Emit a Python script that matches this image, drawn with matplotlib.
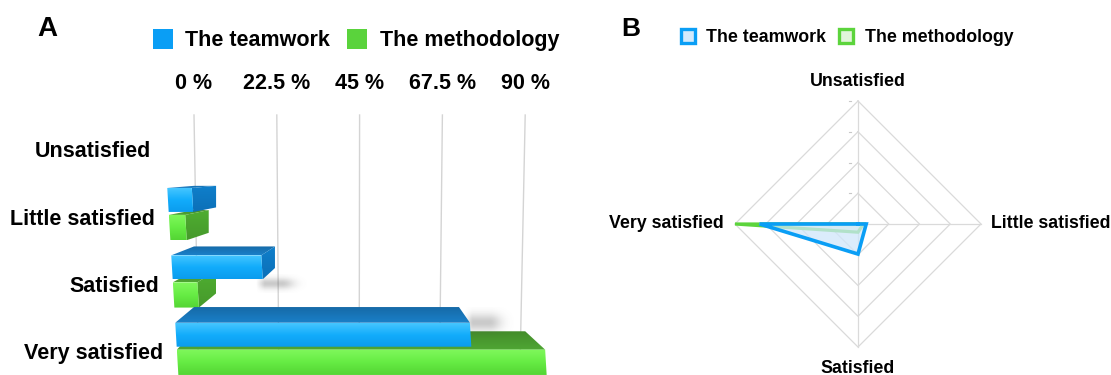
import numpy as np
import matplotlib.pyplot as plt
from matplotlib.patches import Polygon, Rectangle
from matplotlib.colors import LinearSegmentedColormap

plt.rcParams['font.family'] = ['Liberation Sans', 'DejaVu Sans']
plt.rcParams['font.weight'] = 'bold'

# --- Data ---
categories = ['Unsatisfied', 'Little satisfied', 'Satisfied', 'Very satisfied']
series_names = ['The teamwork', 'The methodology']
teamwork = [0, 6, 22, 72]
methodology = [0, 4, 6, 90]
pct_ticks = [0, 22.5, 45, 67.5, 90]
pct_labels = ['0 %', '22.5 %', '45 %', '67.5 %', '90 %']

W, H = 1111, 375
fig = plt.figure(figsize=(W / 100, H / 100), dpi=100)


def fx(px):
    return px / W


def fy(py):
    return 1 - py / H


# --- Panel A: pseudo-3D horizontal bars ---
ax = fig.add_axes([0, 0, 590 / W, 1])
PX_PER_PCT = 3.68      # back wall scale
X0 = 194               # pixel of 0 % on back wall
PX_PER_ROW = 60.6
Y0 = 151.3
VPX, VPY = 41.3, 0.259  # vanishing point (data units)
K = 1.112               # front face magnification
SHEAR = 4 / PX_PER_PCT


def to_front(x, y):
    xf = VPX + K * (x - VPX) + SHEAR * (y - 3)
    yf = VPY + K * (y - VPY)
    return xf, yf


def shade_poly(axis, pts, colors, z):
    poly = Polygon(pts, closed=True, facecolor='none', edgecolor='none', zorder=z)
    axis.add_patch(poly)
    xs = [p[0] for p in pts]
    ys = [p[1] for p in pts]
    cmap = LinearSegmentedColormap.from_list('face', colors)
    grad = np.linspace(0, 1, 64).reshape(-1, 1)
    im = axis.imshow(grad, cmap=cmap, extent=(min(xs), max(xs), max(ys), min(ys)),
                     aspect='auto', zorder=z, interpolation='bilinear')
    im.set_clip_path(poly)


def soft_shadow(axis, xc, yc, w, h, z, strength=0.32):
    # blurred grey smear, sizes in data units
    gx = np.linspace(-1, 1, 80)
    gy = np.linspace(-1, 1, 40)
    X, Y = np.meshgrid(gx, gy)
    a = np.exp(-(np.clip(X, 0, None) ** 2) * 4.0 - (Y ** 2) * 3.0) * strength
    a *= np.clip((X + 1) * 3, 0, 1)
    rgba = np.zeros(a.shape + (4,))
    rgba[..., :3] = 0.35
    rgba[..., 3] = a
    axis.imshow(rgba, extent=(xc - w / 2, xc + w / 2, yc + h / 2, yc - h / 2),
                aspect='auto', zorder=z, interpolation='bilinear')


styles = {
    'The teamwork': dict(front=['#45c6ff', '#12acfb', '#0b9cee'],
                         top=['#166aa8', '#1a80c8'],
                         side=['#0f7fcb', '#0c70b8'],
                         span=(-0.43, -0.074)),
    'The methodology': dict(front=['#80f85c', '#66ec44', '#54d534'],
                            top=['#438c2a', '#4fa634'],
                            side=['#4fae31', '#46992b'],
                            span=(-0.03, 0.345)),
}

# gridlines on the back wall, slightly converging downwards
y_grid_top = (115 - Y0) / PX_PER_ROW
y_bottom = (H - Y0) / PX_PER_ROW
for v in pct_ticks:
    ax.plot([v, VPX + 0.97 * (v - VPX)], [y_grid_top, y_bottom],
            color='#d4d4d4', lw=1.0, zorder=0)

z = 2
for i, cat in enumerate(categories):
    for name, vals in [('The methodology', methodology), ('The teamwork', teamwork)]:
        v = vals[i]
        if v <= 0:
            continue
        st = styles[name]
        y0, y1 = i + st['span'][0], i + st['span'][1]
        b_tl, b_tr, b_br = (0, y0), (v, y0), (v, y1)
        f_tl, f_tr, f_br, f_bl = (to_front(0, y0), to_front(v, y0),
                                  to_front(v, y1), to_front(0, y1))
        if name == 'The teamwork' and v >= 10:
            # shadow lands on the floor, or on the longer green bar underneath
            if methodology[i] > v:
                sy, sh = y0 + 16 / PX_PER_ROW, 30
            else:
                sy, sh = f_br[1] + 5 / PX_PER_ROW, 18
            soft_shadow(ax, f_br[0] + 18 / PX_PER_PCT, sy,
                        50 / PX_PER_PCT, sh / PX_PER_ROW, z - 0.05)
        shade_poly(ax, [b_tl, b_tr, f_tr, f_tl], st['top'], z)
        if v < VPX:
            shade_poly(ax, [b_tr, b_br, f_br, f_tr], st['side'], z + 0.1)
        shade_poly(ax, [f_tl, f_tr, f_br, f_bl], st['front'], z + 0.2)
        z += 1

# axis labels
y_tick_base = (88.5 - Y0) / PX_PER_ROW
for v, lab in zip(pct_ticks, pct_labels):
    ax.text(v, y_tick_base, lab, ha='center', va='baseline', fontsize=15.5)

for i, cat in enumerate(categories):
    xf, yf = to_front(0, i)
    ax.text(xf - 14 / PX_PER_PCT, yf + 7.7 / PX_PER_ROW, cat,
            ha='right', va='baseline', fontsize=15.5)

ax.set_xlim(-X0 / PX_PER_PCT, (590 - X0) / PX_PER_PCT)
ax.set_ylim(y_bottom, -Y0 / PX_PER_ROW)
ax.axis('off')

fig.text(fx(37), fy(36), 'A', fontsize=20, ha='left', va='baseline')
for sx, tx, name, col in [(153, 185, 'The teamwork', '#0a9ef5'),
                          (347, 380, 'The methodology', '#5ad33c')]:
    fig.add_artist(Rectangle((fx(sx), fy(48.5)), 19.5 / W, 19.5 / H,
                             transform=fig.transFigure, facecolor=col, edgecolor='none'))
    fig.text(fx(tx), fy(46), name, fontsize=15.5, ha='left', va='baseline')

# --- Panel B: radar chart ---
ax2 = fig.add_axes([600 / W, 0, 511 / W, 1])
R_PX = 123 / 90          # pixels per percent
CX, CY = 858, 224
angles = np.deg2rad([90, 0, -90, 180])


def radar_xy(vals):
    vals = np.asarray(vals, dtype=float)
    x = vals * np.cos(angles)
    y = vals * np.sin(angles)
    return np.append(x, x[0]), np.append(y, y[0])


for lvl in pct_ticks[1:]:
    gx, gy = radar_xy([lvl] * 4)
    ax2.plot(gx, gy, color='#dadada', lw=0.9, zorder=1)
    ax2.plot([-6.6, -4.8], [lvl, lvl], color='#c8c8c8', lw=0.8, zorder=1)
for a in angles:
    ax2.plot([0, 90 * np.cos(a)], [0, 90 * np.sin(a)], color='#dadada', lw=0.9, zorder=1)

mx, my = radar_xy(methodology)
ax2.fill(mx, my, color='#e2f5da', alpha=0.8, zorder=2)
ax2.plot(mx, my, color='#5cd43c', lw=2.3, solid_joinstyle='miter', zorder=3)
tx_, ty_ = radar_xy(teamwork)
ax2.fill(tx_, ty_, color='#cfe6fa', alpha=0.75, zorder=4)
ax2.plot(tx_, ty_, color='#0a9ef5', lw=2.6, solid_joinstyle='miter', zorder=5)

ax2.text(0, 104, categories[0], ha='center', va='center', fontsize=12.8)
ax2.text(97.3, 0, categories[1], ha='left', va='center', fontsize=12.8)
ax2.text(0, -105.4, categories[2], ha='center', va='center', fontsize=12.8)
ax2.text(-98, 0, categories[3], ha='right', va='center', fontsize=12.8)

ax2.set_xlim((600 - CX) / R_PX, (W - CX) / R_PX)
ax2.set_ylim(-(H - CY) / R_PX, CY / R_PX)
ax2.axis('off')

fig.text(fx(621), fy(36), 'B', fontsize=19, ha='left', va='baseline')
for sx, tx, name, col, fill in [(680.5, 706, 'The teamwork', '#0a9ef5', '#d4eafc'),
                                (838.5, 865, 'The methodology', '#5cd43c', '#e2f5da')]:
    fig.add_artist(Rectangle((fx(sx), fy(42.5)), 14 / W, 14 / H, transform=fig.transFigure,
                             facecolor=fill, edgecolor=col, lw=2.4))
    fig.text(fx(tx), fy(42), name, fontsize=12.8, ha='left', va='baseline')

fig.savefig('out.png', dpi=100)
